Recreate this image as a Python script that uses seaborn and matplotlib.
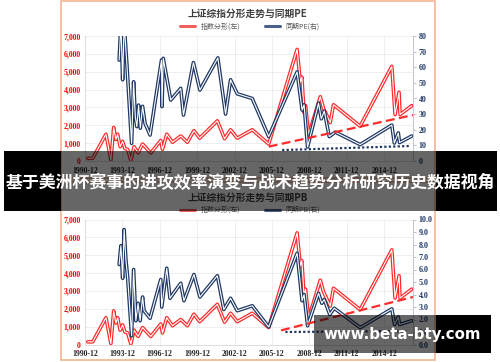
import pandas as pd
import matplotlib
matplotlib.use('Agg')
import matplotlib.pyplot as plt
import seaborn as sns
from matplotlib.patches import Rectangle
from matplotlib.lines import Line2D

sns.set_theme(style='white')
plt.rcParams['font.family'] = ['Noto Sans CJK SC', 'DejaVu Sans']

# 上证综指分形 (左轴, 点)
idx_x = [1991.14, 1991.54, 1992.60, 1993.00, 1993.22, 1993.40, 1993.54, 1993.74, 1993.94,
         1994.12, 1994.34, 1994.60, 1994.86, 1995.18, 1995.54, 1996.20, 1997.00, 1997.14,
         1997.48, 1997.94, 1998.60, 1999.14, 1999.66, 2000.12, 2001.54, 2002.12, 2002.60,
         2003.14, 2004.34, 2005.66, 2007.94, 2008.20, 2008.32, 2008.50, 2008.62, 2008.86,
         2009.80, 2010.06, 2010.60, 2010.86, 2013.00, 2015.54, 2015.80, 2016.12, 2016.20, 2017.14]
idx_y = [150, 150, 1500, 50, 1880, 1200, 1500, 800, 1100,
         700, 650, 30, 800, 450, 950, 450, 1150, 650,
         1500, 1050, 1400, 1050, 1700, 1280, 2250, 1250, 1750,
         1280, 1750, 950, 6250, 4400, 4700, 2700, 3100, 1450,
         3600, 2950, 2150, 3150, 1950, 5300, 2600, 3850, 2600, 3100]

# 同期PE (右轴)
pe_x = [1993.66, 1993.80, 1993.94, 1994.06, 1994.28, 1994.66, 1994.82, 1994.96, 1995.08,
        1995.22, 1995.36, 1995.54, 1995.74, 1996.14, 1997.06, 1997.10, 1997.20, 1997.80,
        1998.60, 1998.82, 1999.62, 2000.14, 2001.58, 2002.20, 2002.60, 2003.14, 2004.34,
        2005.66, 2007.94, 2008.34, 2008.50, 2008.78, 2009.66, 2009.88, 2010.12, 2010.52,
        2011.00, 2013.00, 2015.54, 2015.74, 2016.06, 2016.16, 2017.14]
pe_y = [64.6, 88, 52, 88, 62, 11.3, 50.7, 28, 22,
        35.8, 21, 35, 24, 16.6, 64.6, 34.8, 65.7, 39,
        46.5, 29.4, 63, 45.4, 66, 30, 52, 43, 40,
        15.6, 57, 32.6, 36, 9, 37, 27, 32, 15.6,
        18.5, 10.5, 23, 11.5, 18, 11.8, 16]

# 同期PB (右轴)
pb_x = [1993.66, 1993.80, 1993.94, 1994.06, 1994.20, 1994.34, 1994.66, 1994.82, 1995.00,
        1995.18, 1995.34, 1995.54, 1995.66, 1996.14, 1997.00, 1997.08, 1997.48, 1997.74,
        1998.60, 1998.86, 1999.66, 2000.14, 2001.54, 2002.06, 2002.60, 2003.14, 2004.34,
        2005.66, 2007.94, 2008.34, 2008.50, 2008.78, 2009.66, 2009.92, 2010.12, 2010.56,
        2010.92, 2013.00, 2015.54, 2015.76, 2016.06, 2016.16, 2017.14]
pb_y = [6.4, 7.9, 5.3, 9.2, 6.8, 5.4, 0.7, 6.0, 1.9,
        3.3, 1.9, 3.8, 2.7, 2.1, 5.2, 3.0, 6.1, 3.7,
        4.9, 3.5, 5.6, 3.8, 5.5, 2.8, 3.7, 2.7, 3.1,
        1.4, 7.3, 3.5, 4.0, 1.5, 4.1, 3.3, 3.6, 2.4,
        2.9, 1.35, 2.85, 1.6, 2.2, 1.6, 1.9]

# 趋势线与底部线
pe_trend_x = [2005.66, 2017.24]
pe_trend_y = [9.2, 29.4]
pe_floor_x = [2006.74, 2017.0]
pe_floor_y = [7.0, 9.6]
pb_trend_x = [2006.65, 2017.24]
pb_trend_y = [1.13, 3.8]
pb_floor_x = [2007.0, 2016.7]
pb_floor_y = [1.0, 1.07]

xtick_pos = [1990.92, 1993.92, 1996.92, 1999.92, 2002.92, 2005.92, 2008.92, 2011.92, 2014.92]
xtick_labels = ['1990-12', '1993-12', '1996-12', '1999-12', '2002-12',
                '2005-12', '2008-12', '2011-12', '2014-12']
left_ticks = [0, 1000, 2000, 3000, 4000, 5000, 6000, 7000]

RED = '#ff2b2b'
NAVY = '#1f3864'
W, H = 500, 362


def frac_box(x0, y0, x1, y1):
    return [x0 / W, 1 - y1 / H, (x1 - x0) / W, (y1 - y0) / H]


def double_line(ax, x, y, color):
    d = pd.DataFrame({'x': x, 'y': y})
    sns.lineplot(data=d, x='x', y='y', ax=ax, color=color, lw=2.6, estimator=None, sort=False)
    sns.lineplot(data=d, x='x', y='y', ax=ax, color='white', lw=0.8, estimator=None, sort=False)


def panel(top, title, rname, rx, ry, rmax, rticks, rfmt, trend, floor):
    ax1 = fig.add_axes(frac_box(85, top, 413, top + 125))
    ax2 = ax1.twinx()
    double_line(ax1, idx_x, idx_y, RED)
    double_line(ax2, rx, ry, NAVY)
    ax2.plot(trend[0], trend[1], color=RED, lw=1.6, ls=(0, (4, 2)))
    ax2.plot(floor[0], floor[1], color=NAVY, lw=1.6, ls=(0, (1, 1)))

    ax1.set_xlim(1990.92, 2017.24)
    ax1.set_ylim(0, 7000)
    ax2.set_ylim(0, rmax)
    for a in (ax1, ax2):
        a.set_xlabel('')
        a.set_ylabel('')
    ax1.set_xticks(xtick_pos, xtick_labels, fontfamily='Liberation Serif',
                   fontweight='bold', fontsize=5.6, color='#262626')
    ax1.set_yticks(left_ticks, [f'{v:,}' for v in left_ticks], fontfamily='Liberation Serif',
                   fontweight='bold', fontsize=5.6, color='#ff0000')
    ax2.set_yticks(rticks, [rfmt.format(v) for v in rticks], fontfamily='Liberation Serif',
                   fontweight='bold', fontsize=5.8, color=NAVY)
    ax1.grid(True, color='#ebebeb', lw=0.6)
    ax1.set_axisbelow(True)
    ax1.tick_params(axis='x', length=0, pad=4)
    ax1.tick_params(axis='y', length=0, pad=3)
    ax2.tick_params(axis='y', length=2, color='#b0b4c0', width=0.6, pad=2)
    for s in ('top', 'right'):
        ax1.spines[s].set_visible(False)
    for s in ('top', 'left', 'bottom'):
        ax2.spines[s].set_visible(False)
    ax1.spines['left'].set_color('#dcdcdc')
    ax1.spines['bottom'].set_color('#dcdcdc')
    ax2.spines['right'].set_color('#c0c6d4')
    for s in ax1.spines.values():
        s.set_linewidth(0.7)
    ax2.spines['right'].set_linewidth(0.7)

    fig.text(248 / W, 1 - (top - 22) / H, title, ha='center', va='center',
             fontsize=7, fontweight='bold', color='#404040')
    handles = [Line2D([], [], color='#f06060', lw=2.2), Line2D([], [], color='#4a5f8a', lw=2.2)]
    fig.legend(handles, ['指数分形(左)', rname], loc='center',
               bbox_to_anchor=(250 / W, 1 - (top - 9.5) / H), ncol=2, frameon=False,
               fontsize=5, handlelength=2.2, columnspacing=3.5, labelcolor='#595959')


def overlay(x0, y0, x1, y1):
    # 图片区域内半透明, 外侧不透明
    img0, img1 = 61, 436
    if x0 < img0:
        fig.patches.append(Rectangle((x0 / W, 1 - y1 / H), (img0 - x0) / W, (y1 - y0) / H,
                                     transform=fig.transFigure, color='black', lw=0, zorder=10))
    fig.patches.append(Rectangle((max(x0, img0) / W, 1 - y1 / H), (min(x1, img1) - max(x0, img0)) / W,
                                 (y1 - y0) / H, transform=fig.transFigure, color='black',
                                 alpha=0.6, lw=0, zorder=10))
    fig.patches.append(Rectangle((img1 / W, 1 - y1 / H), (x1 - img1) / W, (y1 - y0) / H,
                                 transform=fig.transFigure, color='black', lw=0, zorder=10))


fig = plt.figure(figsize=(5, 3.62), dpi=100)
fig.patch.set_facecolor('white')

# 边框
for y0, y1 in [(0.5, 178), (182, 360)]:
    fig.patches.append(Rectangle((61 / W, 1 - y1 / H), 374 / W, (y1 - y0) / H, transform=fig.transFigure,
                                 fill=False, edgecolor='#f0b592', lw=1.2, zorder=1))

panel(36, '上证综指分形走势与同期PE', '同期PE(右)', pe_x, pe_y, 80, list(range(0, 81, 10)), '{}',
      (pe_trend_x, pe_trend_y), (pe_floor_x, pe_floor_y))
panel(219.5, '上证综指分形走势与同期PB', '同期PB(右)', pb_x, pb_y, 10, list(range(0, 11)), '{:.1f}',
      (pb_trend_x, pb_trend_y), (pb_floor_x, pb_floor_y))

overlay(4, 151, 497, 211)
fig.text(250 / W, 1 - 182.5 / H, '基于美洲杯赛事的进攻效率演变与战术趋势分析研究历史数据视角',
         ha='center', va='center', color='white', fontsize=12.2, fontweight='bold', zorder=11)

overlay(314, 315, 491, 353)
fig.text(402 / W, 1 - 335 / H, 'www.beta-bty.com', ha='center', va='center', color='white',
         fontsize=10.8, fontweight='bold', family='DejaVu Sans', zorder=11)

fig.savefig('out.png', dpi=100)
